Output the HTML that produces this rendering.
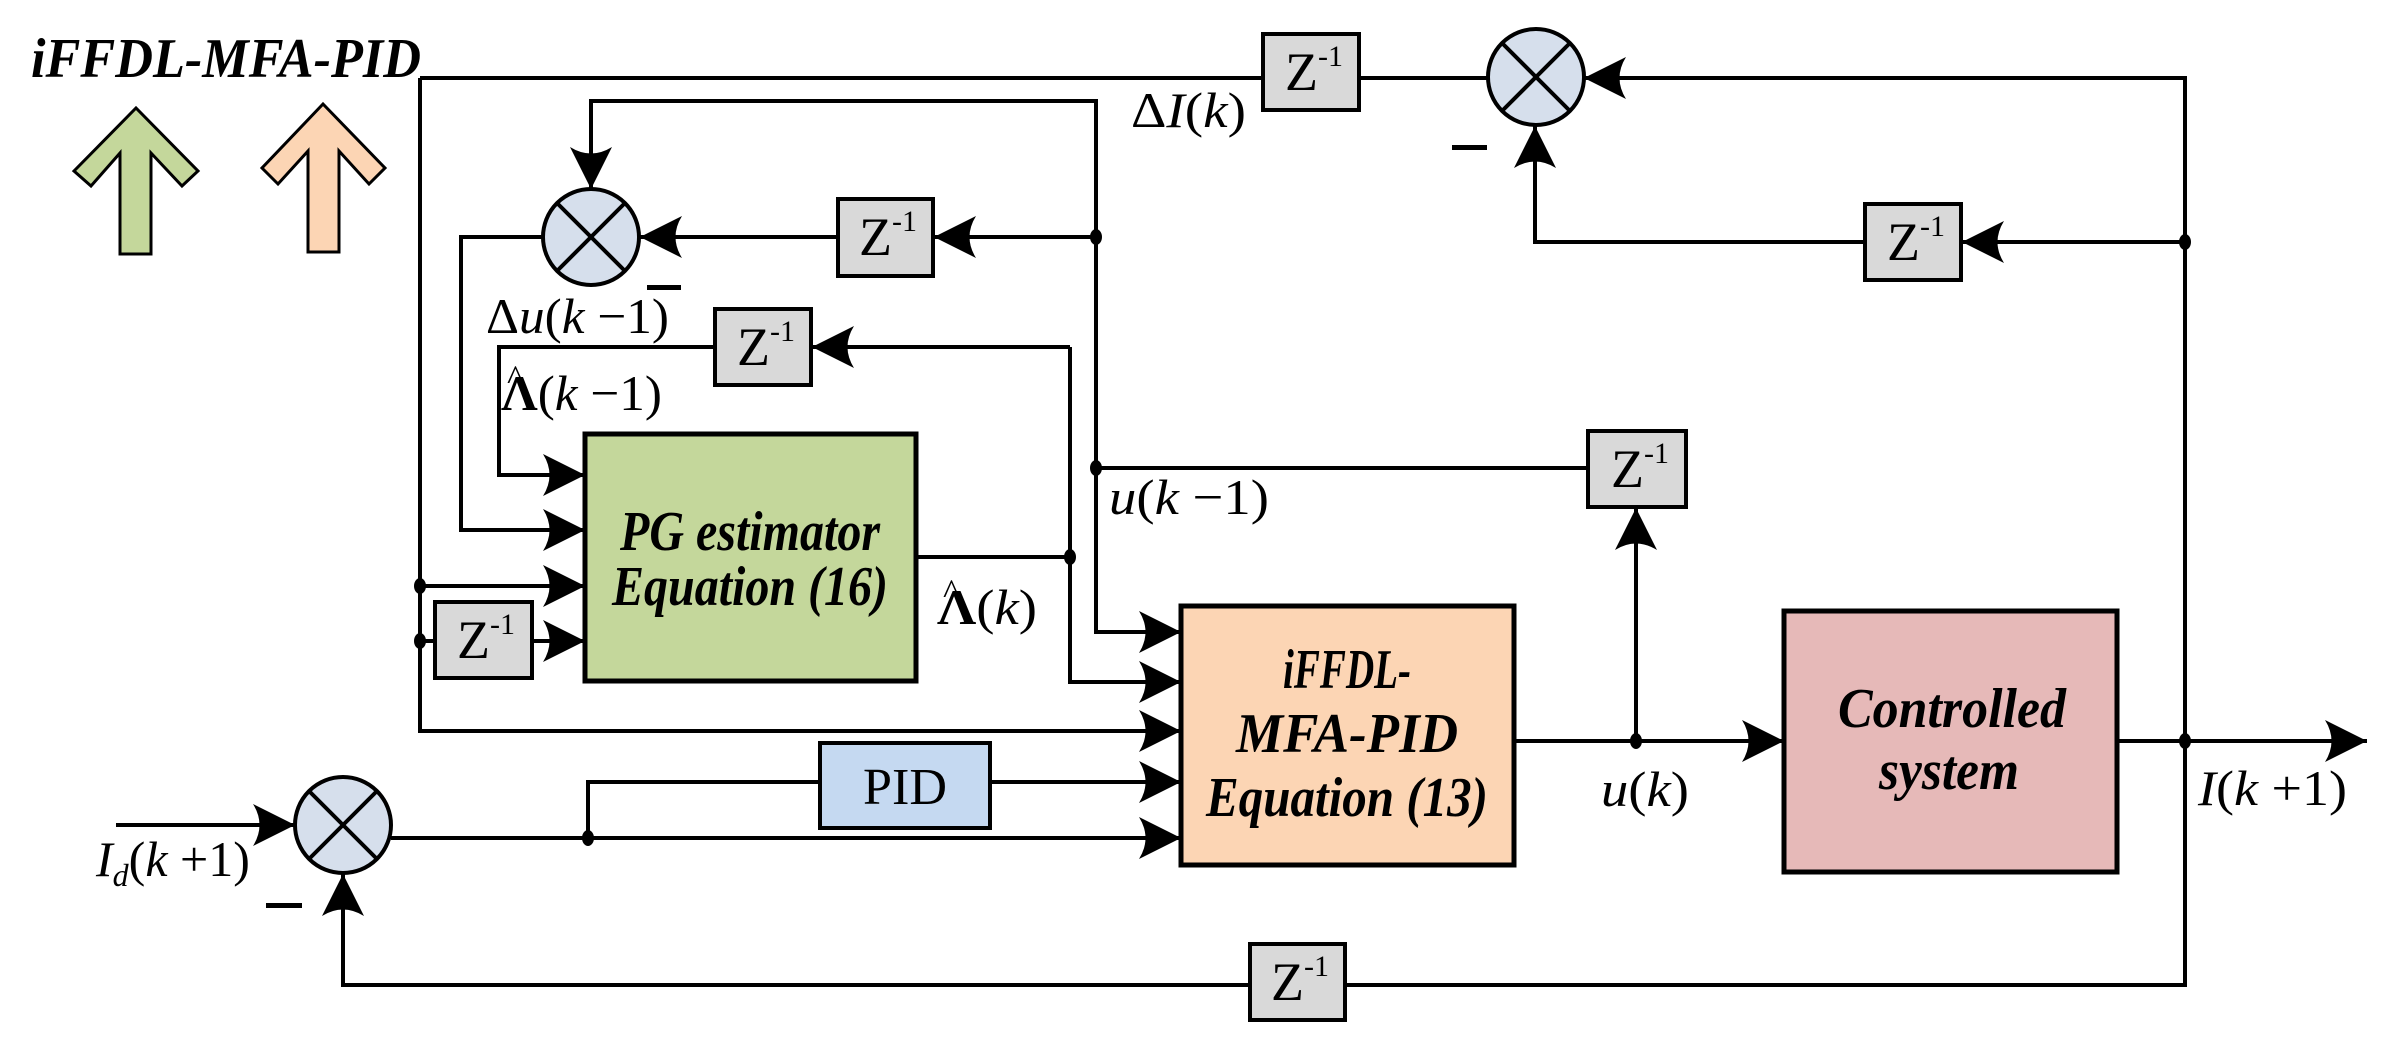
<!DOCTYPE html>
<html><head><meta charset="utf-8"><style>html,body{margin:0;padding:0;background:#fff}svg{display:block}svg text,svg tspan{font-family:"Liberation Serif","Times New Roman",serif}</style></head>
<body>
<svg width="2392" height="1057" viewBox="0 0 2392 1057" xmlns="http://www.w3.org/2000/svg">
<defs>
<marker id="a" viewBox="0 -22 42 44" refX="42" refY="0" markerWidth="42" markerHeight="44" markerUnits="userSpaceOnUse" orient="auto">
<path d="M42,0 L0,-21 Q13,0 0,21 Z" fill="#000"/>
</marker>
</defs>
<g fill="none" stroke="#000" stroke-width="4">
<polyline points="420,78 1263,78"/>
<polyline points="1359,78 1489,78"/>
<polyline points="2185,985 2185,78 1584,78" marker-end="url(#a)"/>
<polyline points="2185,242 1962,242" marker-end="url(#a)"/>
<polyline points="1865,242 1535,242 1535,126" marker-end="url(#a)"/>
<polyline points="420,78 420,731 1181,731" marker-end="url(#a)"/>
<polyline points="1096,237 1096,632 1181,632" marker-end="url(#a)"/>
<polyline points="1096,237 1096,101 591,101 591,189" marker-end="url(#a)"/>
<polyline points="1096,237 934,237" marker-end="url(#a)"/>
<polyline points="838,237 640,237" marker-end="url(#a)"/>
<polyline points="543,237 461,237 461,530 585,530" marker-end="url(#a)"/>
<polyline points="1070,347 812,347" marker-end="url(#a)"/>
<polyline points="715,347 499,347 499,475 585,475" marker-end="url(#a)"/>
<polyline points="1070,347 1070,682 1181,682" marker-end="url(#a)"/>
<polyline points="916,557 1070,557"/>
<polyline points="420,586 585,586" marker-end="url(#a)"/>
<polyline points="420,641 435,641"/>
<polyline points="532,641 585,641" marker-end="url(#a)"/>
<polyline points="1096,468 1588,468"/>
<polyline points="1636,741 1636,508" marker-end="url(#a)"/>
<polyline points="1514,741 1784,741" marker-end="url(#a)"/>
<polyline points="2117,741 2367,741" marker-end="url(#a)"/>
<polyline points="2185,741 2185,985 1345,985"/>
<polyline points="1250,985 343,985 343,874" marker-end="url(#a)"/>
<polyline points="116,825 295,825" marker-end="url(#a)"/>
<polyline points="391,838 1181,838" marker-end="url(#a)"/>
<polyline points="588,838 588,782 820,782"/>
<polyline points="990,782 1181,782" marker-end="url(#a)"/>
</g>
<g fill="#000">
<ellipse cx="1096" cy="237" rx="6" ry="8"/><ellipse cx="1096" cy="468" rx="6" ry="8"/>
<ellipse cx="2185" cy="242" rx="6" ry="8"/><ellipse cx="1070" cy="557" rx="6" ry="8"/>
<ellipse cx="420" cy="586" rx="6" ry="8"/><ellipse cx="420" cy="641" rx="6" ry="8"/>
<ellipse cx="588" cy="838" rx="6" ry="8"/><ellipse cx="1636" cy="741" rx="6" ry="8"/>
<ellipse cx="2185" cy="741" rx="6" ry="8"/>
<rect x="647" y="285" width="34" height="5"/><rect x="1452" y="145" width="35" height="5"/><rect x="266" y="903" width="36" height="5"/>
</g>
<g stroke="#000" stroke-width="4" fill="#d6dfec">
<circle cx="591" cy="237" r="48"/><line x1="557" y1="203" x2="625" y2="271"/><line x1="625" y1="203" x2="557" y2="271"/>
<circle cx="1536" cy="77" r="48"/><line x1="1502" y1="43" x2="1570" y2="111"/><line x1="1570" y1="43" x2="1502" y2="111"/>
<circle cx="343" cy="825" r="48"/><line x1="309" y1="791" x2="377" y2="859"/><line x1="377" y1="791" x2="309" y2="859"/>
</g>
<g stroke="#000" stroke-width="4" fill="#d9d9d9">
<rect x="1263" y="34" width="96" height="76"/>
<rect x="1865" y="204" width="96" height="76"/>
<rect x="838" y="199" width="95" height="77"/>
<rect x="715" y="309" width="96" height="76"/>
<rect x="1588" y="431" width="98" height="76"/>
<rect x="435" y="602" width="97" height="76"/>
<rect x="1250" y="944" width="95" height="76"/>
</g>
<g font-size="54" fill="#000">
<text x="1285" y="90">Z<tspan font-size="30" dy="-24">-1</tspan></text>
<text x="1887" y="260">Z<tspan font-size="30" dy="-24">-1</tspan></text>
<text x="859" y="255">Z<tspan font-size="30" dy="-24">-1</tspan></text>
<text x="737" y="365">Z<tspan font-size="30" dy="-24">-1</tspan></text>
<text x="1611" y="487">Z<tspan font-size="30" dy="-24">-1</tspan></text>
<text x="457" y="658">Z<tspan font-size="30" dy="-24">-1</tspan></text>
<text x="1271" y="1000">Z<tspan font-size="30" dy="-24">-1</tspan></text>
</g>
<g stroke="#000" stroke-width="5">
<rect x="585" y="434" width="331" height="247" fill="#c4d79b"/>
<rect x="1181" y="606" width="333" height="259" fill="#fcd5b4"/>
<rect x="1784" y="611" width="333" height="261" fill="#e6b9b8"/>
<rect x="820" y="743" width="170" height="85" fill="#c5d9f1" stroke-width="4"/>
</g>
<g font-weight="bold" font-style="italic" font-size="56" fill="#000" text-anchor="middle">
<text x="750" y="550" textLength="260" lengthAdjust="spacingAndGlyphs">PG estimator</text>
<text x="750" y="605" textLength="276" lengthAdjust="spacingAndGlyphs">Equation (16)</text>
<text x="1347" y="688" textLength="128" lengthAdjust="spacingAndGlyphs">iFFDL-</text>
<text x="1347" y="752" textLength="222" lengthAdjust="spacingAndGlyphs">MFA-PID</text>
<text x="1347" y="816" textLength="282" lengthAdjust="spacingAndGlyphs">Equation (13)</text>
<text x="1952" y="727" textLength="228" lengthAdjust="spacingAndGlyphs">Controlled</text>
<text x="1949" y="789" textLength="140" lengthAdjust="spacingAndGlyphs">system</text>
</g>
<text x="905" y="804" font-size="52" text-anchor="middle" textLength="84" lengthAdjust="spacingAndGlyphs">PID</text>
<text x="31" y="77" font-size="56" font-weight="bold" font-style="italic" textLength="390" lengthAdjust="spacingAndGlyphs">iFFDL-MFA-PID</text>
<path d="M120,254 L120,153 L91,186 L74,171 L136,108 L198,171 L182,186 L151,153 L151,254 Z" fill="#c4d79b" stroke="#000" stroke-width="3"/>
<path d="M308,252 L308,151 L278,184 L262,168 L323,104 L385,168 L369,184 L339,151 L339,252 Z" fill="#fcd5b4" stroke="#000" stroke-width="3"/>
<g font-size="50" fill="#000">
<text x="1131" y="127" textLength="115" lengthAdjust="spacingAndGlyphs">Δ<tspan font-style="italic">I</tspan>(<tspan font-style="italic">k</tspan>)</text>
<text x="486" y="333" textLength="183" lengthAdjust="spacingAndGlyphs">Δ<tspan font-style="italic">u</tspan>(<tspan font-style="italic">k</tspan> −1)</text>
<text x="501" y="410" textLength="161" lengthAdjust="spacingAndGlyphs"><tspan font-weight="bold">Λ</tspan>(<tspan font-style="italic">k</tspan> −1)</text>
<text x="507" y="390" font-size="36">^</text>
<text x="1109" y="514" textLength="160" lengthAdjust="spacingAndGlyphs"><tspan font-style="italic">u</tspan>(<tspan font-style="italic">k</tspan> −1)</text>
<text x="937" y="624" textLength="100" lengthAdjust="spacingAndGlyphs"><tspan font-weight="bold">Λ</tspan>(<tspan font-style="italic">k</tspan>)</text>
<text x="943" y="604" font-size="36">^</text>
<text x="1601" y="806" textLength="88" lengthAdjust="spacingAndGlyphs"><tspan font-style="italic">u</tspan>(<tspan font-style="italic">k</tspan>)</text>
<text x="2198" y="805" textLength="149" lengthAdjust="spacingAndGlyphs"><tspan font-style="italic">I</tspan>(<tspan font-style="italic">k</tspan> +1)</text>
<text x="96" y="876"><tspan font-style="italic">I</tspan><tspan font-style="italic" font-size="32" dy="10">d</tspan><tspan dy="-10">(</tspan><tspan font-style="italic">k</tspan> +1)</text>
</g>
</svg>
</body></html>
